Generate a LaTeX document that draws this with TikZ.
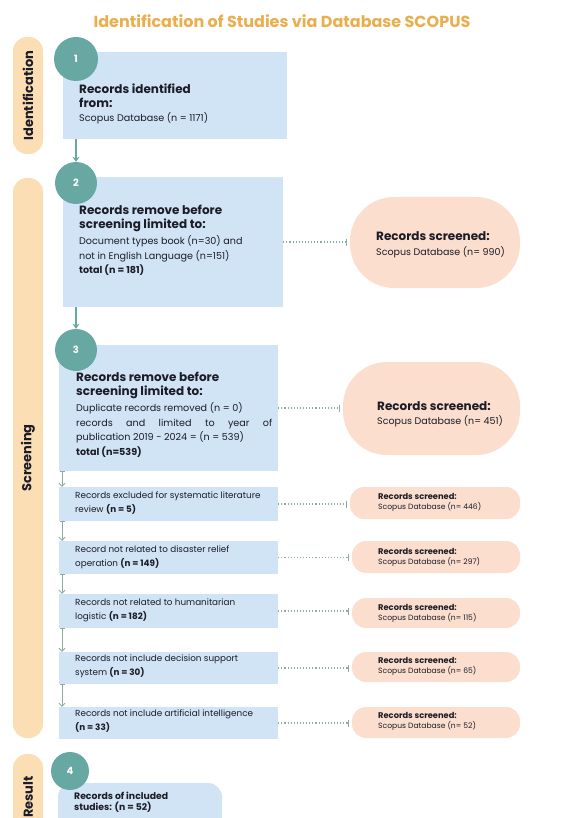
\documentclass[tikz,border=0pt]{standalone}
\usepackage{fontspec}
\setmainfont{Poppins}
\usetikzlibrary{arrows.meta, fit, positioning}
\definecolor{ttlgold}{RGB}{234,174,76}
\definecolor{sidepeach}{RGB}{252,222,180}
\definecolor{boxblue}{RGB}{208,228,246}
\definecolor{numteal}{RGB}{104,168,162}
\definecolor{ovsalmon}{RGB}{251,222,206}
\definecolor{inkdark}{RGB}{28,28,38}
\definecolor{linkgrey}{RGB}{140,172,162}
\tikzset{
  side/.style    ={fill=sidepeach, rounded corners=14pt, inner sep=0pt},
  sidelbl/.style ={rotate=90, font=\bfseries\fontsize{13}{14}\selectfont, text=inkdark},
  stepbox/.style ={fill=boxblue, inner sep=0pt},
  num/.style     ={circle, fill=numteal, text=white, minimum size=42pt, inner sep=0pt, font=\bfseries\fontsize{10}{11}\selectfont},
  oval/.style    ={fill=ovsalmon, inner sep=0pt, rounded corners=14pt},
  bigoval/.style ={fill=ovsalmon, inner sep=0pt, rounded corners=44pt},
  hd/.style      ={align=left, inner sep=0pt, text=inkdark, font=\bfseries\fontsize{12}{13.5}\selectfont},
  bt/.style      ={align=left, inner sep=0pt, text=inkdark, font=\fontsize{9.6}{14.5}\selectfont},
  st/.style      ={align=left, inner sep=0pt, text=inkdark, font=\fontsize{8.8}{13.5}\selectfont},
  ovhd/.style    ={align=left, inner sep=0pt, text=inkdark, font=\bfseries\fontsize{8.3}{10}\selectfont},
  ovbt/.style    ={align=left, inner sep=0pt, text=inkdark, font=\fontsize{7.6}{9}\selectfont},
  flow/.style    ={-{Stealth[length=5pt,width=7pt]}, line width=1.2pt, numteal},              % main step arrows
  tflow/.style   ={{Bar[width=5pt]}-{Straight Barb[length=3pt,width=6pt]}, line width=0.9pt, linkgrey}, % small step arrows
  link/.style    ={-{Bar[width=7pt]}, line width=1.1pt, linkgrey, dotted, shorten >=3pt},   % box -> screened
}
\begin{document}
\begin{tikzpicture}[x=1pt, y=-1pt]
  \clip (0,0) rectangle (563,818);
  % title
  \node[text=ttlgold, font=\bfseries\fontsize{16}{18}\selectfont] (title) at (282,21) {Identification of Studies via Database SCOPUS};
  % side bars
  \node[side, fit={(13,37) (43,154)}] (s1) {};
  \node[sidelbl] at (s1) {Identification};
  \node[side, fit={(13,178) (43,738)}] (s2) {};
  \node[sidelbl] at (s2) {Screening};
  \node[side, fit={(13,754) (43,850)}] (s3) {};
  \node[sidelbl] at (28,797) {Result};
  % step boxes
  \node[stepbox, fit={(63,52) (287,139)}]  (b1) {};
  \node[stepbox, fit={(63,177) (283,307)}] (b2) {};
  \node[stepbox, fit={(59,345) (278,471)}] (b3) {};
  \node[stepbox, fit={(59,487) (278,521)}] (b4) {};
  \node[stepbox, fit={(59,541) (278,574)}] (b5) {};
  \node[stepbox, fit={(59,594) (278,628)}] (b6) {};
  \node[stepbox, fit={(59,652) (278,684)}] (b7) {};
  \node[stepbox, fit={(59,707) (278,739)}] (b8) {};
  \node[stepbox, rounded corners=14pt, fit={(58,783) (222,840)}] (res) {};
  % screened ovals
  \node[bigoval, fit={(350,197) (520,288)}] (o2) {};
  \node[bigoval, fit={(343,362) (520,455)}] (o3) {};
  \node[oval, fit={(350,487) (520,519)}] (o4) {};
  \node[oval, fit={(352,541) (520,573)}] (o5) {};
  \node[oval, fit={(352,598) (520,628)}] (o6) {};
  \node[oval, fit={(352,652) (520,682)}] (o7) {};
  \node[oval, fit={(352,707) (520,738)}] (o8) {};
  % numbers
  \node[num, minimum size=44pt] (c1) at (76,59)  {1};
  \node[num] (c2) at (76,183) {2};
  \node[num] (c3) at (76,350) {3};
  \node[num, minimum size=38pt] (c4) at (70,771) {4};
  % box texts
  \node[hd, anchor=north west] (h1) at (79,84) {Records identified\\from:};
  \node[bt, below right=5pt and 0pt of h1.south west] (t1) {Scopus Database (n = 1171)};
  \node[hd, anchor=north west] (h2) at (79,205) {Records remove before\\screening limited to:};
  \node[bt, below right=4pt and 0pt of h2.south west] (t2) {Document types book (n=30) and\\not in English Language (n=151)\\\textbf{total (n = 181)}};
  \node[hd, anchor=north west] (h3) at (76,372) {Records remove before\\screening limited to:};
  \node[bt, below right=4pt and 0pt of h3.south west] (t3) {Duplicate records removed (n = 0)\\\makebox[196pt][s]{records and limited to year of}\\publication 2019 - 2024 = (n = 539)\\\textbf{total (n=539)}};
  \node[st, anchor=north west] (t4) at (75,492) {Records excluded for systematic literature\\review \textbf{(n = 5)}};
  \node[st, anchor=north west] (t5) at (75,546) {Record not related to disaster relief\\operation \textbf{(n = 149)}};
  \node[st, anchor=north west] (t6) at (75,599) {Records not related to humanitarian\\logistic \textbf{(n = 182)}};
  \node[st, anchor=north west] (t7) at (75,655) {Records not include decision support\\system \textbf{(n = 30)}};
  \node[st, anchor=north west] (t8) at (75,710) {Records not include artificial intelligence\\\textbf{(n = 33)}};
  \node[ovhd, font=\bfseries\fontsize{9.3}{11}\selectfont, anchor=north west] (tr) at (74,792) {Records of included\\studies: (n = 52)};
  % oval texts
  \node[hd, anchor=north west] (p2) at (376,231) {Records screened:};
  \node[ovbt, font=\fontsize{9.5}{11}\selectfont, below right=6pt and 0pt of p2.south west] {Scopus Database (n= 990)};
  \node[hd, anchor=north west] (p3) at (377,401) {Records screened:};
  \node[ovbt, font=\fontsize{9.5}{11}\selectfont, below right=5pt and 0pt of p3.south west] {Scopus Database (n= 451)};
  \node[ovhd, anchor=north west] (p4) at (378,493) {Records screened:\\\mdseries\fontsize{7.6}{9}\selectfont Scopus Database (n= 446)};
  \node[ovhd, anchor=north west] (p5) at (378,548) {Records screened:\\\mdseries\fontsize{7.6}{9}\selectfont Scopus Database (n= 297)};
  \node[ovhd, anchor=north west] (p6) at (378,604) {Records screened:\\\mdseries\fontsize{7.6}{9}\selectfont Scopus Database (n= 115)};
  \node[ovhd, anchor=north west] (p7) at (378,657) {Records screened:\\\mdseries\fontsize{7.6}{9}\selectfont Scopus Database (n= 65)};
  \node[ovhd, anchor=north west] (p8) at (378,712) {Records screened:\\\mdseries\fontsize{7.6}{9}\selectfont Scopus Database (n= 52)};
  % arrows
  \draw[flow] (b1.south -| c1) -- (c2.north);
  \draw[flow] (b2.south -| c2) -- (c3.north);
  \coordinate (tx) at (62,0);
  \draw[tflow] (b3.south -| tx) -- (b4.north -| tx);
  \draw[tflow] (b4.south -| tx) -- (b5.north -| tx);
  \draw[tflow] (b5.south -| tx) -- (b6.north -| tx);
  \draw[tflow] (b6.south -| tx) -- (b7.north -| tx);
  \draw[tflow] (b7.south -| tx) -- (b8.north -| tx);
  % links
  \foreach \i in {2,...,8}
    \draw[link] (b\i.east) -- (b\i.east -| o\i.west);
\end{tikzpicture}
\end{document}
